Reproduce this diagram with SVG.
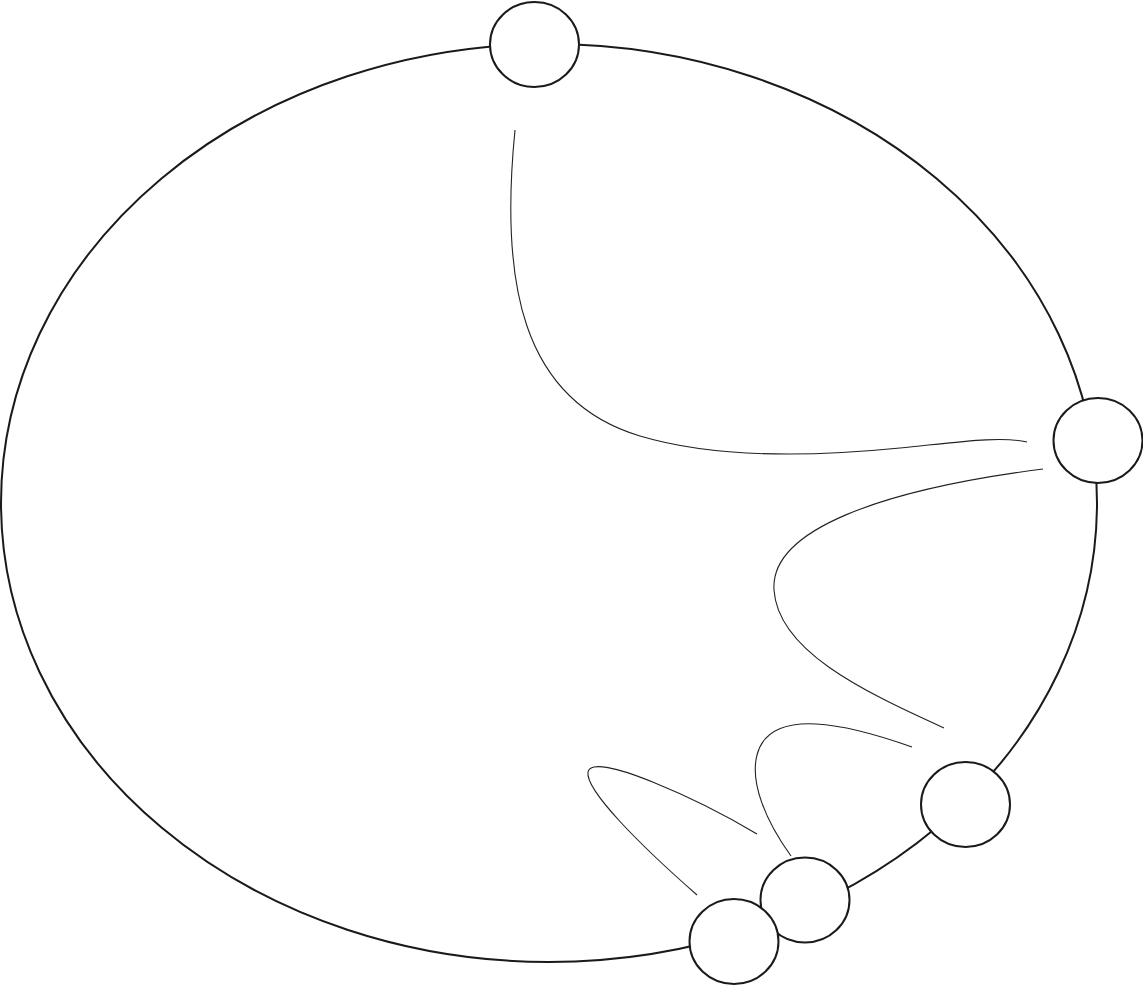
<svg xmlns="http://www.w3.org/2000/svg" width="1143" height="985" viewBox="0 0 1143 985">
<style>
.ring{fill:none;stroke:#1a1a1a;stroke-width:2}
.node{fill:#fff;stroke:#1a1a1a;stroke-width:2}
.edge{fill:none;stroke:#222;stroke-width:1.1}
</style>
<rect width="1143" height="985" fill="#fff"/>
<g id="connectors">
<ellipse class="ring" cx="549" cy="503" rx="548" ry="459"/>
<path class="edge" d="M515,130 C500,280 520,400 640,436 C720,460 820,456 900,448 C960,442 1000,436 1027,442"/>
<path class="edge" d="M1043,469 C880,490 770,530 774,590 C778,650 860,690 944,728"/>
<path class="edge" d="M912,747 C850,725 770,705 757,755 C750,782 765,820 791,856"/>
<path class="edge" d="M757,834 C700,800 592,750 588,772 C585,790 640,845 697,895"/>
</g>
<g id="node1"><ellipse class="node" cx="534.5" cy="44.5" rx="44.5" ry="42.5"/></g>
<g id="node2"><ellipse class="node" cx="1098" cy="440.5" rx="44.5" ry="42.5"/></g>
<g id="node3"><ellipse class="node" cx="965.5" cy="804.5" rx="44.5" ry="42.5"/></g>
<g id="node4"><ellipse class="node" cx="805" cy="900" rx="44.5" ry="42.5"/></g>
<g id="node5"><ellipse class="node" cx="734" cy="941.5" rx="44.5" ry="42.5"/></g>
</svg>
